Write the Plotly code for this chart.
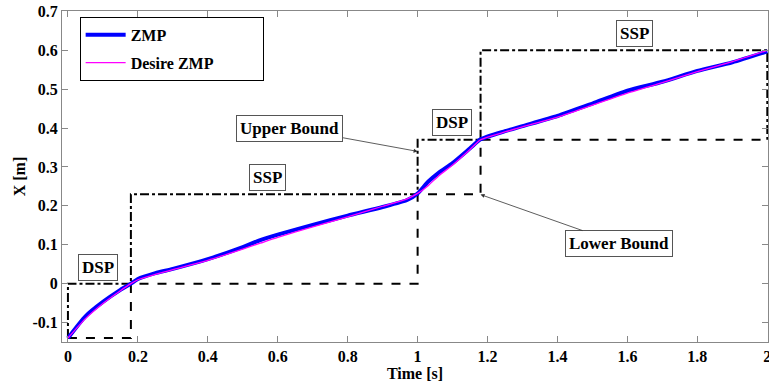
import plotly.graph_objects as go

# ---- data ----
time_s = [0, 0.05, 0.1, 0.15, 0.18, 0.2, 0.25, 0.3, 0.4, 0.5, 0.55, 0.6, 0.7, 0.8, 0.9, 0.97, 1.0,
          1.03, 1.06, 1.1, 1.15, 1.18, 1.25, 1.3, 1.4, 1.5, 1.6, 1.7, 1.8, 1.9, 2.0]
zmp = [-0.14, -0.084, -0.047, -0.016, 0.0, 0.012, 0.027, 0.038, 0.063, 0.094, 0.112, 0.126, 0.151,
       0.175, 0.197, 0.215, 0.232, 0.262, 0.285, 0.31, 0.348, 0.371, 0.392, 0.405, 0.431, 0.463,
       0.496, 0.519, 0.547, 0.569, 0.597]
desired_zmp = [-0.14, -0.09, -0.051, -0.018, 0.0, 0.01, 0.024, 0.036, 0.06, 0.089, 0.104, 0.119,
               0.146, 0.172, 0.199, 0.218, 0.232, 0.252, 0.277, 0.305, 0.345, 0.37, 0.39, 0.403,
               0.428, 0.459, 0.49, 0.517, 0.545, 0.571, 0.6]

upper_x = [0, 0, 0.18, 0.18, 1.0, 1.0, 1.18, 1.18, 2.0, 2.0]
upper_y = [-0.14, 0, 0, 0.23, 0.23, 0.37, 0.37, 0.6, 0.6, 0.37]
lower_x = [0, 0.18, 0.18, 1.0, 1.0, 1.18, 1.18, 2.0]
lower_y = [-0.14, -0.14, 0, 0, 0.23, 0.23, 0.37, 0.37]

x_ticks = [0, 0.2, 0.4, 0.6, 0.8, 1.0, 1.2, 1.4, 1.6, 1.8, 2.0]
x_tick_labels = ["0", "0.2", "0.4", "0.6", "0.8", "1", "1.2", "1.4", "1.6", "1.8", "2"]
y_ticks = [-0.1, 0, 0.1, 0.2, 0.3, 0.4, 0.5, 0.6, 0.7]
y_tick_labels = ["-0.1", "0", "0.1", "0.2", "0.3", "0.4", "0.5", "0.6", "0.7"]

FONT = "Liberation Serif"

fig = go.Figure()
fig.add_trace(go.Scatter(x=upper_x, y=upper_y, mode="lines", showlegend=False,
                         line=dict(color="black", width=2, dash="dashdot")))
fig.add_trace(go.Scatter(x=lower_x, y=lower_y, mode="lines", showlegend=False,
                         line=dict(color="black", width=2, dash="dash")))
fig.add_trace(go.Scatter(x=time_s, y=zmp, mode="lines", name="<b>ZMP</b>", legendgroup="a",
                         line=dict(color="#0000ff", width=4, shape="spline", smoothing=0.6)))
fig.add_trace(go.Scatter(x=time_s, y=desired_zmp, mode="lines",
                         name="<b>Desire ZMP</b>" + "\u00a0" * 11,
                         legendgroup="b",
                         line=dict(color="#ff00ff", width=1.3, shape="spline", smoothing=0.6)))

box = dict(bordercolor="#555555", borderwidth=1, bgcolor="white", borderpad=3,
           font=dict(family=FONT, size=17, color="black"))
# plain boxed labels
for txt, x, y in [("DSP", 0.086, 0.041), ("SSP", 0.572, 0.273),
                  ("DSP", 1.099, 0.415), ("SSP", 1.62, 0.642)]:
    fig.add_annotation(x=x, y=y, text=f"<b>{txt}</b>", showarrow=False, **box)
# arrowed labels
fig.add_annotation(x=1.0, y=0.34, ax=0.635, ay=0.40, axref="x", ayref="y",
                   text="<b>Upper Bound</b>", showarrow=True, arrowhead=2, arrowsize=1,
                   arrowwidth=0.8, arrowcolor="#333333", **box)
fig.add_annotation(x=1.18, y=0.229, ax=1.577, ay=0.103, axref="x", ayref="y",
                   text="<b>Lower Bound</b>", showarrow=True, arrowhead=2, arrowsize=1,
                   arrowwidth=0.8, arrowcolor="#333333", **box)

axis_common = dict(showgrid=False, zeroline=False, showline=True, linecolor="#888888",
                   linewidth=1, mirror="ticks", ticks="inside", ticklen=6, tickcolor="#888888",
                   ticklabeloverflow="allow",
                   tickfont=dict(family=FONT, size=16, color="black"))
fig.update_xaxes(range=[-0.017, 2.002], tickvals=x_ticks, ticktext=[f"<b>{t}</b>" for t in x_tick_labels],
                 title=dict(text="<b>Time [s]</b>", font=dict(family=FONT, size=16, color="black"),
                            standoff=0), **axis_common)
fig.update_yaxes(range=[-0.15, 0.701], tickvals=y_ticks, ticktext=[f"<b>{t}</b>" for t in y_tick_labels],
                 title=dict(text="<b>X [m]</b>", font=dict(family=FONT, size=16, color="black"),
                            standoff=2), **axis_common)

fig.update_layout(
    width=769, height=385,
    margin=dict(l=62, r=1, t=11, b=43, autoexpand=False),
    paper_bgcolor="white", plot_bgcolor="white",
    font=dict(family=FONT, color="black"),
    legend=dict(x=0.025, y=0.982, xanchor="left", yanchor="top", bordercolor="black",
                borderwidth=1, bgcolor="white", font=dict(family=FONT, size=16, color="black"),
                tracegroupgap=4, itemwidth=40),
)

# remove the browser's default 8px body margin so the figure fills the window exactly
fig.write_html("out.html", config={"displayModeBar": False},
               post_script="document.body.style.margin='0';")
